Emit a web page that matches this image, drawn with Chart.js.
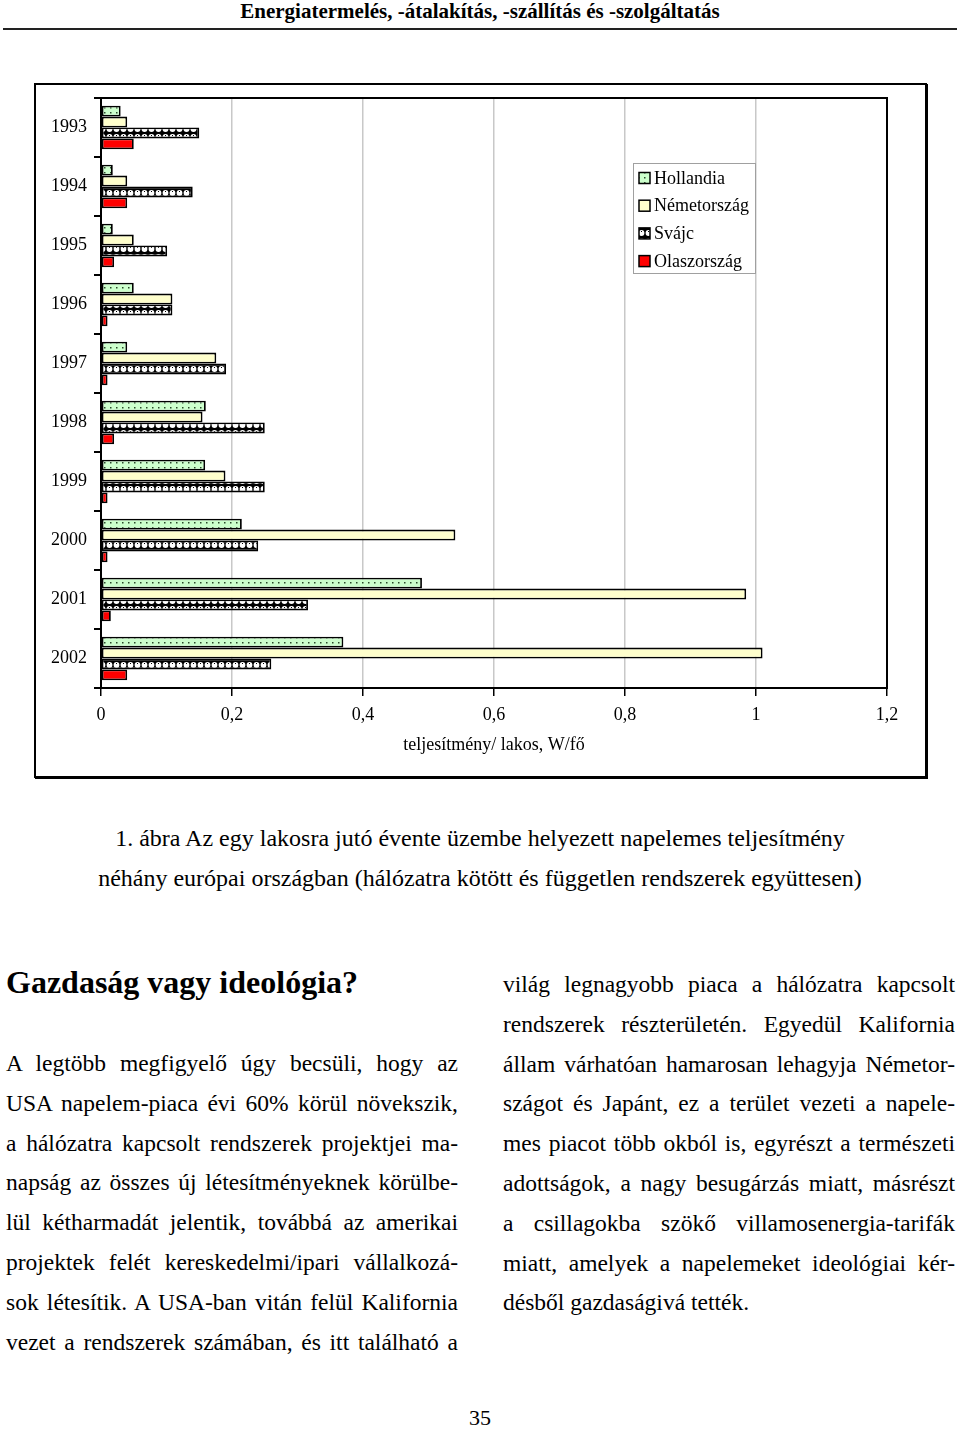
<!DOCTYPE html>
<html lang="hu">
<head>
<meta charset="utf-8">
<script src="https://cdn.jsdelivr.net/npm/chart.js@4.4.0/dist/chart.umd.min.js"></script>
<style>
  body { margin:0; background:#fff; font-family:"Liberation Serif","Times New Roman",serif; color:#000; }
  .page { position:relative; width:960px; height:1430px; }
  .header { position:absolute; top:0; left:0; width:960px; text-align:center; font-weight:bold; font-size:21px; line-height:22px; }
  .rule { position:absolute; top:28px; left:3px; width:954px; height:2px; background:#222; }
  .frame { position:absolute; left:34px; top:83px; width:893px; height:695px; box-sizing:border-box; border:2px solid #000; box-shadow:1px 1px 0 #000; }
  .frame canvas { position:absolute; left:0; top:0; }
  .caption { position:absolute; top:818px; left:0; width:960px; text-align:center; font-size:24px; line-height:40px; }
  .heading { position:absolute; top:962px; left:6px; font-size:32px; font-weight:bold; line-height:40px; }
  .col { position:absolute; width:452px; font-size:23.5px; line-height:39.8px; }
  .col div { text-align:justify; text-align-last:justify; white-space:nowrap; }
  .col div.last { text-align-last:left; }
  .pnum { position:absolute; top:1405px; left:0; width:960px; text-align:center; font-size:22px; line-height:26px; }
</style>
</head>
<body>
<div class="page">
  <div class="header">Energiatermelés, -átalakítás, -szállítás és -szolgáltatás</div>
  <div class="rule"></div>
  <div class="frame"><canvas id="chart" width="888" height="690"></canvas></div>
  <div class="caption">1. ábra Az egy lakosra jutó évente üzembe helyezett napelemes teljesítmény<br>néhány európai országban (hálózatra kötött és független rendszerek együttesen)</div>
  <div class="heading">Gazdaság vagy ideológia?</div>
  <div class="col" style="left:6px; top:1044px;">
    <div>A legtöbb megfigyelő úgy becsüli, hogy az</div>
    <div>USA napelem-piaca évi 60% körül növekszik,</div>
    <div>a hálózatra kapcsolt rendszerek projektjei ma-</div>
    <div>napság az összes új létesítményeknek körülbe-</div>
    <div>lül kétharmadát jelentik, továbbá az amerikai</div>
    <div>projektek felét kereskedelmi/ipari vállalkozá-</div>
    <div>sok létesítik. A USA-ban vitán felül Kalifornia</div>
    <div>vezet a rendszerek számában, és itt található a</div>
  </div>
  <div class="col" style="left:503px; top:965px;">
    <div>világ legnagyobb piaca a hálózatra kapcsolt</div>
    <div>rendszerek részterületén. Egyedül Kalifornia</div>
    <div>állam várhatóan hamarosan lehagyja Németor-</div>
    <div>szágot és Japánt, ez a terület vezeti a napele-</div>
    <div>mes piacot több okból is, egyrészt a természeti</div>
    <div>adottságok, a nagy besugárzás miatt, másrészt</div>
    <div>a csillagokba szökő villamosenergia-tarifák</div>
    <div>miatt, amelyek a napelemeket ideológiai kér-</div>
    <div class="last">désből gazdaságivá tették.</div>
  </div>
  <div class="pnum">35</div>
</div>
<script>
// data (W per capita, installed that year)
const years = ['1993','1994','1995','1996','1997','1998','1999','2000','2001','2002'];
const hollandia    = [0.030, 0.018, 0.018, 0.050, 0.040, 0.160, 0.159, 0.215, 0.490, 0.370];
const nemetorszag  = [0.040, 0.040, 0.050, 0.109, 0.176, 0.155, 0.190, 0.541, 0.985, 1.010];
const svajc        = [0.150, 0.140, 0.101, 0.109, 0.191, 0.250, 0.250, 0.240, 0.316, 0.260];
const olaszorszag  = [0.050, 0.040, 0.020, 0.010, 0.010, 0.020, 0.010, 0.010, 0.015, 0.040];
const seriesNames  = ['Hollandia','Németország','Svájc','Olaszország'];
const xTickLabels  = ['0','0,2','0,4','0,6','0,8','1','1,2'];
const axisTitle    = 'teljesítmény/ lakos, W/fő';

const FONT = '"Liberation Serif","Times New Roman",serif';
const ctx = document.getElementById('chart').getContext('2d');

// fill patterns like the old excel chart
function dotPattern() {
    const c = document.createElement('canvas');
    c.width = 6; c.height = 5;
    const g = c.getContext('2d');
    g.fillStyle = '#ccffcc';
    g.fillRect(0, 0, 6, 5);
    g.fillStyle = '#2a4a2a';
    g.fillRect(2, 2, 1.5, 1.5);
    return ctx.createPattern(c, 'repeat');
}
function shinglePattern() {
    const c = document.createElement('canvas');
    c.width = 7; c.height = 8;
    const g = c.getContext('2d');
    g.fillStyle = '#000';
    g.fillRect(0, 0, 7, 8);
    g.fillStyle = '#fff';
    g.beginPath();
    g.arc(3.5, 4, 2.9, 0, Math.PI * 2);
    g.fill();
    g.fillStyle = '#000';
    g.fillRect(3, 2, 1, 1);
    return ctx.createPattern(c, 'repeat');
}

const fills = [dotPattern(), '#ffffcc', shinglePattern(), '#ff0000'];

const plotFrame = {
    id: 'plotFrame',
    afterDatasetsDraw(chart) {
        const a = chart.chartArea, c = chart.ctx;
        c.save();
        c.strokeStyle = '#000';
        c.lineWidth = 2;
        c.strokeRect(a.left, a.top, a.right - a.left, a.bottom - a.top);
        c.restore();
    }
};

// legend box sits inside the plot, top right
const boxLegend = {
    id: 'boxLegend',
    afterDraw(chart) {
        const a = chart.chartArea, c = chart.ctx;
        const x0 = a.right - 254, y0 = a.top + 65, w = 122, h = 110;
        c.save();
        c.fillStyle = '#fff';
        c.fillRect(x0, y0, w, h);
        c.strokeStyle = '#a0a0a0';
        c.lineWidth = 1;
        c.strokeRect(x0 + 0.5, y0 + 0.5, w, h);
        c.font = '18px ' + FONT;
        c.textBaseline = 'middle';
        chart.data.datasets.forEach((ds, i) => {
            const cy = y0 + 15 + i * 27.7;
            c.fillStyle = ds.backgroundColor;
            c.fillRect(x0 + 6, cy - 5.5, 11, 11);
            c.strokeStyle = '#000';
            c.lineWidth = 1.5;
            c.strokeRect(x0 + 6, cy - 5.5, 11, 11);
            c.fillStyle = '#000';
            c.fillText(ds.label, x0 + 21, cy + 1);
        });
        c.restore();
    }
};

const values = [hollandia, nemetorszag, svajc, olaszorszag];

new Chart(ctx, {
    type: 'bar',
    data: {
        labels: years,
        datasets: values.map((v, i) => ({
            label: seriesNames[i],
            data: v,
            backgroundColor: fills[i],
            borderColor: '#000',
            borderWidth: 1.8,
            borderSkipped: false,
            categoryPercentage: 0.74,
            barPercentage: 1.0
        }))
    },
    options: {
        indexAxis: 'y',
        responsive: false,
        animation: false,
        layout: { padding: { top: 13, right: 37, left: 0, bottom: 0 } },
        plugins: { legend: { display: false }, tooltip: { enabled: false } },
        scales: {
            x: {
                min: 0, max: 1.2,
                afterFit: s => { s.height = 87; s.paddingLeft = 0; s.paddingRight = 0; },
                ticks: {
                    stepSize: 0.2,
                    padding: 8,
                    color: '#000',
                    font: { family: FONT, size: 18 },
                    callback: (v, i) => xTickLabels[i]
                },
                grid: {
                    color: c => (c.tick && c.tick.value > 1.19) ? '#000' : '#c8c8c8',
                    lineWidth: 1.5,
                    tickColor: '#000',
                    tickLength: 8
                },
                border: { color: '#000', width: 2 },
                title: {
                    display: true,
                    text: axisTitle,
                    color: '#000',
                    font: { family: FONT, size: 18 },
                    padding: { top: 4, bottom: 19 }
                }
            },
            y: {
                afterFit: s => { s.width = 65; s.paddingTop = 0; s.paddingBottom = 0; },
                ticks: {
                    padding: 7,
                    color: '#000',
                    font: { family: FONT, size: 18 }
                },
                grid: {
                    offset: true,
                    drawOnChartArea: false,
                    tickColor: '#000',
                    tickLength: 7,
                    lineWidth: 2
                },
                border: { color: '#000', width: 2 }
            }
        }
    },
    plugins: [plotFrame, boxLegend]
});
</script>
</body>
</html>
